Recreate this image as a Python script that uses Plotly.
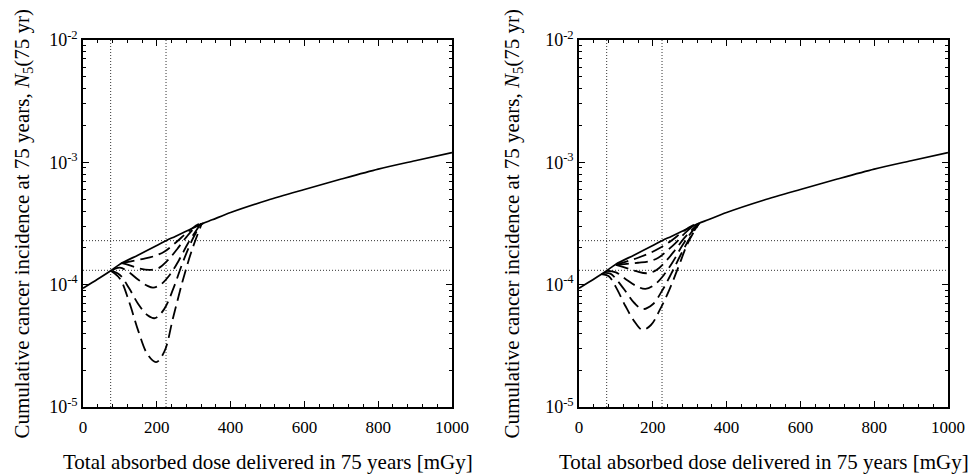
import plotly.graph_objects as go

# ---------------- data ----------------
solid_dose = [0, 25, 50, 75, 100, 150, 200, 225, 250, 300, 325, 350, 400, 500, 600, 700, 800, 900, 1000]
solid_inc = [9.35e-5, 1.04e-4, 1.16e-4, 1.30e-4, 1.47e-4, 1.75e-4, 2.09e-4, 2.29e-4, 2.48e-4, 2.92e-4,
             3.17e-4, 3.39e-4, 3.89e-4, 4.9e-4, 6.0e-4, 7.3e-4, 8.8e-4, 1.03e-3, 1.2e-3]

# left panel dashed curves
left_A_dose = [75, 100, 125, 150, 175, 198, 220, 245, 270, 295, 322]
left_A_inc = [1.30e-4, 1.12e-4, 7.24e-5, 4.17e-5, 2.69e-5, 2.33e-5, 2.82e-5, 5.50e-5, 1.07e-4, 1.91e-4, 3.17e-4]
left_B_dose = [75, 100, 125, 150, 175, 195, 220, 245, 270, 295, 320]
left_B_inc = [1.30e-4, 1.20e-4, 9.33e-5, 6.92e-5, 5.62e-5, 5.32e-5, 6.31e-5, 9.33e-5, 1.51e-4, 2.29e-4, 3.16e-4]
left_C_dose = [80, 100, 125, 150, 175, 190, 210, 235, 260, 285, 315]
left_C_inc = [1.32e-4, 1.38e-4, 1.26e-4, 1.096e-4, 9.77e-5, 9.46e-5, 1.00e-4, 1.20e-4, 1.585e-4, 2.19e-4, 3.02e-4]
left_D_dose = [105, 125, 150, 180, 205, 230, 255, 280, 305, 325]
left_D_inc = [1.50e-4, 1.445e-4, 1.365e-4, 1.32e-4, 1.365e-4, 1.585e-4, 1.95e-4, 2.45e-4, 2.95e-4, 3.17e-4]
left_E_dose = [105, 130, 160, 190, 220, 250, 280, 310, 325]
left_E_inc = [1.50e-4, 1.55e-4, 1.62e-4, 1.70e-4, 1.86e-4, 2.19e-4, 2.63e-4, 3.09e-4, 3.17e-4]

# right panel dashed curves
right_1_dose = [60, 80, 100, 125, 150, 172, 195, 220, 245, 270, 295, 325]
right_1_inc = [1.22e-4, 1.175e-4, 9.55e-5, 6.76e-5, 5.01e-5, 4.27e-5, 4.68e-5, 6.31e-5, 9.12e-5, 1.41e-4, 2.19e-4, 3.16e-4]
right_2_dose = [65, 85, 105, 130, 150, 172, 200, 225, 250, 275, 300, 325]
right_2_inc = [1.245e-4, 1.23e-4, 1.07e-4, 8.51e-5, 7.08e-5, 6.31e-5, 6.92e-5, 8.91e-5, 1.23e-4, 1.74e-4, 2.40e-4, 3.16e-4]
right_3_dose = [75, 100, 125, 155, 180, 205, 230, 255, 280, 305, 325]
right_3_inc = [1.30e-4, 1.26e-4, 1.12e-4, 9.77e-5, 9.23e-5, 1.00e-4, 1.20e-4, 1.55e-4, 2.09e-4, 2.69e-4, 3.16e-4]
right_4_dose = [100, 125, 155, 185, 210, 235, 260, 285, 310, 325]
right_4_inc = [1.45e-4, 1.38e-4, 1.29e-4, 1.24e-4, 1.318e-4, 1.55e-4, 1.91e-4, 2.40e-4, 2.88e-4, 3.16e-4]
right_5_dose = [100, 130, 160, 190, 215, 240, 265, 290, 315, 325]
right_5_inc = [1.45e-4, 1.48e-4, 1.51e-4, 1.55e-4, 1.66e-4, 1.91e-4, 2.24e-4, 2.69e-4, 3.09e-4, 3.16e-4]
right_6_dose = [100, 130, 160, 190, 220, 250, 280, 305, 325]
right_6_inc = [1.45e-4, 1.55e-4, 1.66e-4, 1.80e-4, 2.00e-4, 2.29e-4, 2.69e-4, 3.02e-4, 3.16e-4]

ref_doses = [75, 225]
ref_levels = [1.31e-4, 2.29e-4]

x_ticks = [0, 200, 400, 600, 800, 1000]
y_ticks = [1e-5, 1e-4, 1e-3, 1e-2]
y_ticktext = ["10<sup>-5</sup>", "10<sup>-4</sup>", "10<sup>-3</sup>", "10<sup>-2</sup>"]

x_title = "Total absorbed dose delivered in 75 years [mGy]"
y_title = "Cumulative cancer incidence at 75 years, <i>N</i><sub>5</sub>(75 yr)"

# ---------------- figure ----------------
FONT = "Liberation Serif"
W, H = 973, 476
fig = go.Figure()

panels = [
    ("x", "y", [(left_A_dose, left_A_inc), (left_B_dose, left_B_inc), (left_C_dose, left_C_inc),
                (left_D_dose, left_D_inc), (left_E_dose, left_E_inc)]),
    ("x2", "y2", [(right_1_dose, right_1_inc), (right_2_dose, right_2_inc), (right_3_dose, right_3_inc),
                  (right_4_dose, right_4_inc), (right_5_dose, right_5_inc), (right_6_dose, right_6_inc)]),
]

dotted = dict(color="#333", width=1, dash="1px,2px")
for xa, ya, curves in panels:
    for d in ref_doses:
        fig.add_trace(go.Scatter(x=[d, d], y=[y_ticks[0], y_ticks[-1]], mode="lines", line=dotted,
                                 xaxis=xa, yaxis=ya, showlegend=False, hoverinfo="skip"))
    for lv in ref_levels:
        fig.add_trace(go.Scatter(x=[x_ticks[0], x_ticks[-1]], y=[lv, lv], mode="lines", line=dotted,
                                 xaxis=xa, yaxis=ya, showlegend=False, hoverinfo="skip"))
    for dx, dy in curves:
        fig.add_trace(go.Scatter(x=dx, y=dy, mode="lines",
                                 line=dict(color="black", width=1.8, dash="13px,6px", shape="spline", smoothing=1.0),
                                 xaxis=xa, yaxis=ya, showlegend=False))
    fig.add_trace(go.Scatter(x=solid_dose, y=solid_inc, mode="lines",
                             line=dict(color="black", width=1.7, shape="spline", smoothing=0.8),
                             xaxis=xa, yaxis=ya, showlegend=False))

y0 = (H - 407) / H
y1 = (H - 40) / H
doms = [(83 / W, 452 / W), (579 / W, 948 / W)]

xcommon = dict(range=[0, 1000], tickvals=x_ticks, ticks="inside", ticklen=6, tickwidth=1,
               tickcolor="black", showline=True, linecolor="black", linewidth=1.5, mirror="ticks",
               showgrid=False, zeroline=False, automargin=False,
               tickfont=dict(family=FONT, size=17, color="black"),
               minor=dict(dtick=40, ticks="inside", ticklen=3, tickcolor="black", showgrid=False),
               ticklabelstandoff=4)
ycommon = dict(type="log", range=[-5, -2], tickvals=y_ticks, ticktext=y_ticktext, ticks="inside",
               ticklen=6, tickwidth=1, tickcolor="black", showline=True, linecolor="black", linewidth=1.5,
               mirror="ticks", showgrid=False, zeroline=False, automargin=False,
               tickfont=dict(family=FONT, size=18, color="black"),
               minor=dict(dtick="D1", ticks="inside", ticklen=3, tickcolor="black", showgrid=False),
               ticklabelstandoff=0)

fig.update_layout(
    template="none",
    width=W, height=H, margin=dict(l=0, r=0, t=0, b=0, pad=0),
    paper_bgcolor="white", plot_bgcolor="white",
    font=dict(family=FONT, color="black"),
    xaxis=dict(domain=doms[0], anchor="y", **xcommon),
    yaxis=dict(domain=[y0, y1], anchor="x", **ycommon),
    xaxis2=dict(domain=doms[1], anchor="y2", **xcommon),
    yaxis2=dict(domain=[y0, y1], anchor="x2", **ycommon),
    showlegend=False,
)

ann_font = dict(family=FONT, size=21, color="black")
for (dx0, dx1), yt_x in zip(doms, [22, 512]):
    fig.add_annotation(x=(dx0 + dx1) / 2, y=(H - 462) / H, xref="paper", yref="paper",
                       text=x_title, showarrow=False, font=ann_font, xanchor="center", yanchor="middle")
    fig.add_annotation(x=yt_x / W, y=(y0 + y1) / 2, xref="paper", yref="paper",
                       text=y_title, showarrow=False, font=ann_font, textangle=-90,
                       xanchor="center", yanchor="middle")

fig.write_html("out.html", config={"displayModeBar": False},
               post_script="document.body.style.margin='0';document.body.style.overflow='hidden';")
